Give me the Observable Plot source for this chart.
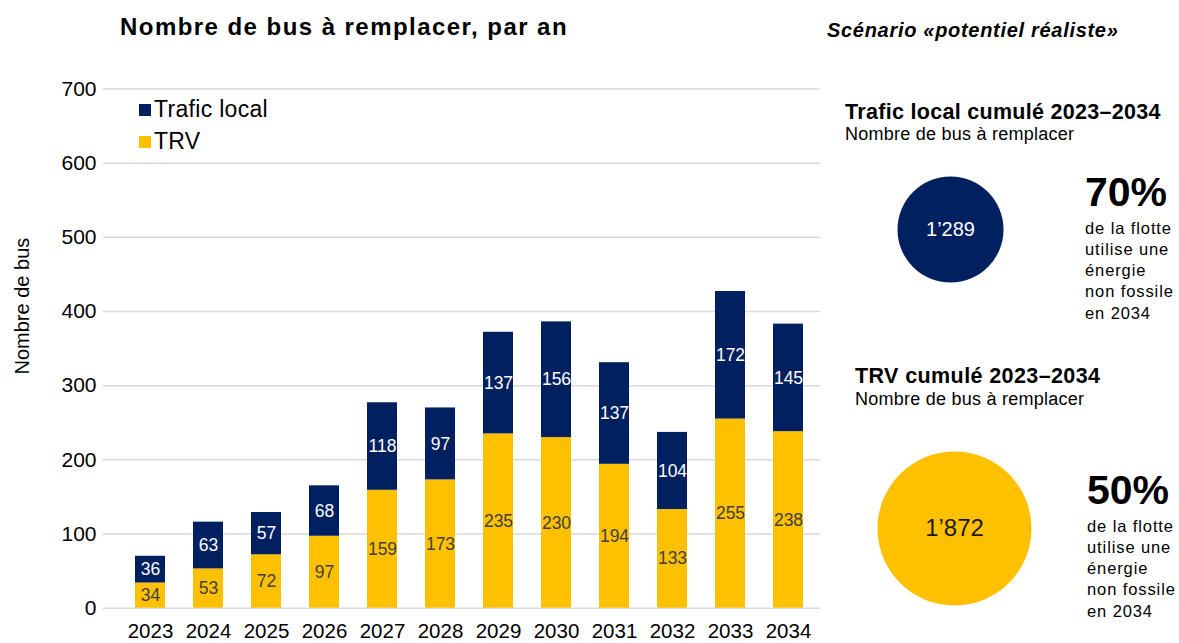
<!DOCTYPE html>
<html>
<head>
<meta charset="utf-8">
<script src="https://cdn.jsdelivr.net/npm/d3@7"></script>
<script src="https://cdn.jsdelivr.net/npm/@observablehq/plot@0.6"></script>
<style>
  html, body { margin: 0; padding: 0; background: #fff; }
  #root { position: relative; width: 1179px; height: 643px; overflow: hidden;
          font-family: 'Liberation Sans', Arial, sans-serif; color: #000; }
  .t { position: absolute; line-height: 1; white-space: nowrap; }
  .sw { position: absolute; width: 12px; height: 12px; }
  .para { position: absolute; font-size: 16.5px; line-height: 21.3px; letter-spacing: 0.9px; white-space: nowrap; }
  .abs { position: absolute; }
</style>
</head>
<body>
<div id="root">
  <div class="t" id="title" style="left:120px;top:14.7px;font-size:24px;font-weight:bold;letter-spacing:1.45px;"></div>
  <div class="abs" id="chart" style="left:0;top:0;"></div>
  <div class="sw" id="sw0" style="left:139px;top:104px;"></div>
  <div class="t" id="lg0" style="left:154px;top:97.5px;font-size:23px;letter-spacing:0.3px;"></div>
  <div class="sw" id="sw1" style="left:139px;top:136px;"></div>
  <div class="t" id="lg1" style="left:154px;top:129.5px;font-size:23px;letter-spacing:0.3px;"></div>

  <div class="t" id="scen" style="left:827px;top:20.1px;font-size:20px;font-weight:bold;font-style:italic;letter-spacing:0.7px;"></div>

  <div class="t" id="h0" style="left:845px;top:101.8px;font-size:21.5px;font-weight:bold;letter-spacing:0.3px;"></div>
  <div class="t" id="s0" style="left:845px;top:124.8px;font-size:18px;letter-spacing:0.25px;"></div>
  <div class="abs" id="c0" style="left:865px;top:143.5px;"></div>
  <div class="t" id="p0" style="left:1085px;top:172px;font-size:41px;font-weight:bold;"></div>
  <div class="para" id="q0" style="left:1085px;top:217.5px;"></div>

  <div class="t" id="h1" style="left:855px;top:365.8px;font-size:21.5px;font-weight:bold;letter-spacing:0.4px;"></div>
  <div class="t" id="s1" style="left:855px;top:389.8px;font-size:18px;letter-spacing:0.25px;"></div>
  <div class="abs" id="c1" style="left:869px;top:443px;"></div>
  <div class="t" id="p1" style="left:1087px;top:470.3px;font-size:41px;font-weight:bold;"></div>
  <div class="para" id="q1" style="left:1087px;top:515.5px;"></div>
</div>
<script>
// ---- data ----
const years = [2023, 2024, 2025, 2026, 2027, 2028, 2029, 2030, 2031, 2032, 2033, 2034];
const trv = [34, 53, 72, 97, 159, 173, 235, 230, 194, 133, 255, 238];
const trafficLocal = [36, 63, 57, 68, 118, 97, 137, 156, 137, 104, 172, 145];
const seriesNames = ["TRV", "Trafic local"];
const seriesColors = ["#FFC000", "#002060"];
const yTicks = [0, 100, 200, 300, 400, 500, 600, 700];
const totalNames = ["Trafic local cumulé 2023–2034", "TRV cumulé 2023–2034"];
const totals = [1289, 1872];
const totalColors = ["#002060", "#FFC000"];
const totalTextColors = ["#ffffff", "#1a1a1a"];
const totalFontSizes = [20, 24];
const shares = ["70%", "50%"];
const shareLines = ["de la flotte", "utilise une", "énergie", "non fossile", "en 2034"];
const titleText = "Nombre de bus à remplacer, par an";
const scenarioText = "Scénario «potentiel réaliste»";
const subText = "Nombre de bus à remplacer";
const yLabel = "Nombre de bus";

const font = "'Liberation Sans', Arial, sans-serif";
const rows = years.flatMap((yr, i) => [
  {year: yr, series: seriesNames[0], value: trv[i]},
  {year: yr, series: seriesNames[1], value: trafficLocal[i]}
]);

const chart = Plot.plot({
  width: 830, height: 643,
  marginTop: 88.5, marginBottom: 35.3, marginLeft: 103, marginRight: 10,
  style: {fontFamily: font, color: "#000", background: "transparent", overflow: "visible"},
  x: {type: "band", domain: years, range: [118, 820.5], paddingInner: 0.49, paddingOuter: 0.245, label: null},
  y: {domain: [0, 700], label: null},
  color: {domain: seriesNames, range: seriesColors},
  marks: [
    Plot.ruleY(yTicks, {stroke: "#d9d9d9", strokeWidth: 1.5}),
    Plot.barY(rows, Plot.stackY({x: "year", y: "value", fill: "series"})),
    Plot.text(rows, Plot.stackY({x: "year", y: "value",
      text: d => d.series === seriesNames[0] ? String(d.value) : null,
      fill: "#404040", fontSize: 17.5})),
    Plot.text(rows, Plot.stackY({x: "year", y: "value",
      text: d => d.series === seriesNames[1] ? String(d.value) : null,
      fill: "#ffffff", fontSize: 17.5})),
    Plot.axisY({ticks: yTicks, tickSize: 0, tickPadding: 7, fontSize: 21, label: null}),
    Plot.axisX({tickSize: 0, tickPadding: 15, fontSize: 20.5, label: null, tickFormat: d => String(d)}),
    Plot.text([yLabel], {x: null, y: null, text: d => d, frameAnchor: "left", textAnchor: "middle", dx: -81, dy: -42.5, rotate: -90, fontSize: 20, fill: "#000"})
  ]
});
document.getElementById("chart").appendChild(chart);

document.getElementById("title").textContent = titleText;
seriesNames.forEach((s, i) => {
  document.getElementById("sw" + (1 - i)).style.background = seriesColors[i];
  document.getElementById("lg" + (1 - i)).textContent = s;
});
document.getElementById("scen").textContent = scenarioText;

const fmt = v => d3.format(",")(v).replace(/,/g, "’");
totals.forEach((v, i) => {
  document.getElementById("h" + i).textContent = totalNames[i];
  document.getElementById("s" + i).textContent = subText;
  document.getElementById("p" + i).textContent = shares[i];
  document.getElementById("q" + i).innerHTML = shareLines.join("<br>");
  const c = Plot.plot({
    width: 170, height: 170, margin: 0,
    style: {fontFamily: font, background: "transparent", overflow: "visible"},
    r: {type: "linear", domain: [0, d3.max(totals)], range: [0, 77]},
    marks: [
      Plot.dot([v], {x: null, y: null, r: d => d, fill: totalColors[i], frameAnchor: "middle"}),
      Plot.text([v], {x: null, y: null, text: d => fmt(d), frameAnchor: "middle", fill: totalTextColors[i], fontSize: totalFontSizes[i]})
    ]
  });
  document.getElementById("c" + i).appendChild(c);
});
</script>
</body>
</html>
